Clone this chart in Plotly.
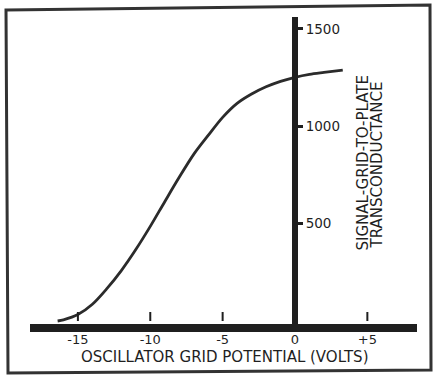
import plotly.graph_objects as go

# Oscillator grid potential (volts) vs signal-grid-to-plate transconductance
grid_volts = [-16.4, -16, -15, -14, -13, -12, -11, -10, -9, -8, -7, -6,
              -5, -4, -3, -2, -1, 0, 1, 2, 3.3]
transconductance = [0, 6, 33, 86, 166, 259, 367, 486, 613, 738, 856, 953,
                    1046, 1118, 1166, 1203, 1231, 1252, 1267, 1277, 1289]

x_tick_vals = [-15, -10, -5, 0, 5]
x_tick_text = ["-15", "-10", "-5", "0", "+5"]
y_tick_vals = [500, 1000, 1500]
y_tick_text = ["500", "1000", "1500"]

W, H = 434, 377
ML, MR, MT, MB = 30, 17, 17, 53
X_RANGE = [-18.31, 8.43]
Y_RANGE = [-15.4, 1561.6]
INK = "#1f1f1f"
FONT = "DejaVu Sans"

pw = W - ML - MR
ph = H - MT - MB


def px(x):
    return (x - ML) / pw


def py(y):
    return (H - MB - y) / ph


fig = go.Figure()
fig.add_trace(go.Scatter(
    x=grid_volts, y=transconductance, mode="lines",
    line=dict(color="#2b2b2b", width=2.8, shape="spline", smoothing=0.9),
    hoverinfo="skip", showlegend=False,
))

y_axis_pos = (0 - X_RANGE[0]) / (X_RANGE[1] - X_RANGE[0])

fig.update_layout(
    width=W, height=H,
    margin=dict(l=ML, r=MR, t=MT, b=MB, pad=0),
    paper_bgcolor="white", plot_bgcolor="white",
    font=dict(family=FONT, color=INK, size=13),
    xaxis=dict(
        range=X_RANGE, showgrid=False, zeroline=False,
        showline=True, linewidth=8, linecolor=INK,
        ticks="", tickvals=x_tick_vals, ticktext=x_tick_text,
        tickfont=dict(family=FONT, size=13, color=INK),
        ticklabelstandoff=-4,
        fixedrange=True,
    ),
    yaxis=dict(
        range=Y_RANGE, showgrid=False, zeroline=False,
        anchor="free", position=y_axis_pos, side="right",
        showline=True, linewidth=6, linecolor=INK,
        ticks="outside", ticklen=5, tickwidth=3, tickcolor=INK,
        tickvals=y_tick_vals, ticktext=y_tick_text,
        tickfont=dict(family=FONT, size=13.5, color=INK),
        fixedrange=True,
    ),
)

# Short upward tick marks standing on the horizontal axis bar
for v in x_tick_vals:
    fig.add_shape(type="line", xref="x", yref="paper",
                  x0=v, x1=v, y0=py(321), y1=py(312),
                  line=dict(color=INK, width=2))

# Axis titles
fig.add_annotation(
    text="OSCILLATOR GRID POTENTIAL (VOLTS)",
    xref="paper", yref="paper", x=px(225), y=py(357),
    showarrow=False, xanchor="center", yanchor="middle",
    font=dict(family=FONT, size=15, color=INK),
)
for line_text, cx, cy in [("SIGNAL-GRID-TO-PLATE", 362.5, 163),
                          ("TRANSCONDUCTANCE", 376.5, 165)]:
    fig.add_annotation(
        text=line_text,
        xref="paper", yref="paper", x=px(cx), y=py(cy),
        showarrow=False, xanchor="center", yanchor="middle", textangle=-90,
        font=dict(family=FONT, size=15, color=INK),
    )

# Hand-drawn frame around the figure
frame = [(6, 10), (430, 5), (431, 370), (8, 373)]
path = "M " + " L ".join(f"{px(a):.4f},{py(b):.4f}" for a, b in frame) + " Z"
fig.add_shape(type="path", xref="paper", yref="paper", path=path,
              line=dict(color="#333333", width=3))

fig.write_html("out.html")
